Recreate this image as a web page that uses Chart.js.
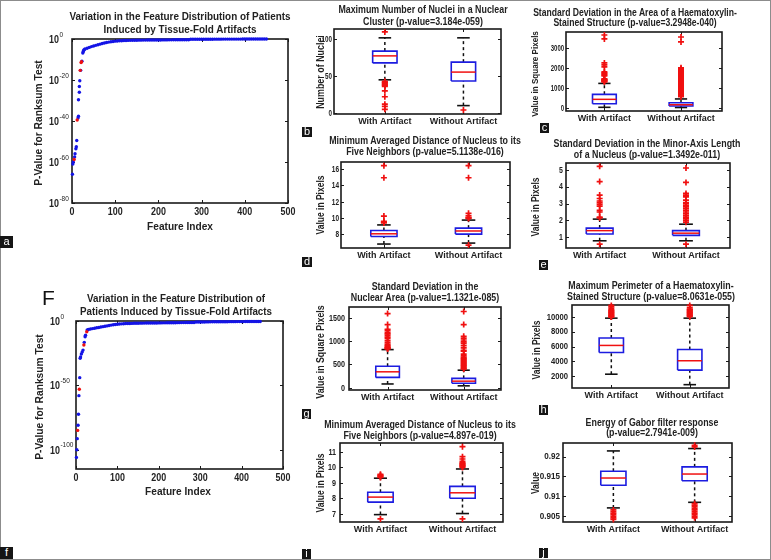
<!DOCTYPE html>
<html><head><meta charset="utf-8"><title>Tissue-fold artifact feature distributions</title>
<script src="https://cdn.jsdelivr.net/npm/chart.js@4.4.1/dist/chart.umd.min.js"></script>
<style>
html,body{margin:0;padding:0;background:#fff;}
#fig{position:relative;width:771px;height:560px;overflow:hidden;background:#fff;}
#frame{position:absolute;left:0;top:0;width:771px;height:560px;box-sizing:border-box;border:1.5px solid #8c8c8c;pointer-events:none;}
canvas{position:absolute;}
.tt{position:absolute;font-family:'Liberation Sans',Arial,sans-serif;font-weight:bold;color:#222;white-space:nowrap;text-align:center;}
.lab{position:absolute;background:#151515;color:#fff;font-family:'Liberation Sans',Arial,sans-serif;font-size:11px;line-height:11px;text-align:center;}
.bigF{position:absolute;font-family:'Liberation Sans',Arial,sans-serif;font-size:21px;color:#111;line-height:21px;}
</style></head>
<body><div id="fig"><div id="frame"></div></div>
<script>
// ---------------- DATA ----------------
const groups = ['With Artifact', 'Without Artifact'];

// Panel a: feature index vs log10(p-value)
const aBlueIdx = [1,2,3,6,7,9,10,11,14,15,15,17,17,18,20,23,25,26,27,28,
  30,35,40,45,50,55,60,65,70,75,80,85,90,95,100,105,110,115,120,125,130,135,140,145,150,155,160,165,170,175,180,185,190,195,200,205,210,215,220,225,230,235,240,245,250,255,260,265,270,275,280,285,290,295,300,305,310,315,320,325,330,335,340,345,350,355,360,365,370,375,380,385,390,395,400,405,410,415,420,425,430,435,440,445,450];
const aBlueExp = [-66,-61,-60,-57.5,-56,-53.5,-52.5,-49.5,-38.5,-37.7,-29.6,-26,-23.2,-20.4,-15.3,-10.8,-6.8,-6.2,-5.6,-5.2,
  -4.9,-4.5,-4.1,-3.7,-3.4,-3.1,-2.8,-2.5,-2.2,-1.95,-1.7,-1.5,-1.35,-1.2,-1.05,-0.95,-0.88,-0.82,-0.76,-0.72,-0.68,-0.65,-0.62,-0.6,-0.58,-0.56,-0.55,-0.54,-0.53,-0.52,-0.51,-0.5,-0.49,-0.48,-0.47,-0.46,-0.45,-0.44,-0.43,-0.42,-0.41,-0.4,-0.39,-0.38,-0.37,-0.36,-0.35,-0.34,-0.33,-0.15,-0.14,-0.13,-0.12,-0.12,-0.11,-0.11,-0.1,-0.1,-0.09,-0.09,-0.08,-0.08,-0.07,-0.07,-0.06,-0.06,-0.06,-0.05,-0.05,-0.05,-0.04,-0.04,-0.04,-0.03,-0.03,-0.03,-0.02,-0.02,-0.02,-0.02,-0.01,-0.01,-0.01,-0.005,-0.002];
const aRedIdx = [5,12,19,21,22];
const aRedExp = [-58.8,-39.5,-15.3,-11.5,-11.1];
const aTickExp = [-80,-60,-40,-20,0];
const aTickX = [0,100,200,300,400,500];

// Panel f
const fBlueIdx = [1,2,3,5,6,7,9,10,11,13,15,17,20,22,23,27,
  30,35,40,45,50,55,60,65,70,75,80,85,90,95,100,105,110,115,120,125,130,135,140,145,150,155,160,165,170,175,180,185,190,195,200,205,210,215,220,225,230,235,240,245,250,255,260,265,270,275,280,285,290,295,300,305,310,315,320,325,330,335,340,345,350,355,360,365,370,375,380,385,390,395,400,405,410,415,420,425,430,435,440,445];
const fBlueExp = [-106,-100,-91.4,-81,-72.5,-58,-44,-29,-28,-25.7,-24,-22.6,-16.6,-12.2,-11,-7,
  -6.6,-6.2,-5.9,-5.6,-5.3,-5.0,-4.7,-4.4,-4.1,-3.8,-3.5,-3.2,-2.9,-2.7,-2.5,-2.35,-2.2,-2.1,-2.0,-1.95,-1.9,-1.85,-1.8,-1.76,-1.72,-1.69,-1.66,-1.63,-1.6,-1.58,-1.56,-1.54,-1.52,-1.5,-1.48,-1.46,-1.44,-1.42,-1.4,-1.38,-1.36,-1.34,-1.32,-1.3,-1.28,-1.26,-1.24,-1.22,-1.2,-1.18,-1.16,-1.12,-0.8,-0.78,-0.76,-0.74,-0.72,-0.7,-0.68,-0.66,-0.64,-0.62,-0.6,-0.58,-0.56,-0.55,-0.54,-0.53,-0.52,-0.51,-0.5,-0.49,-0.48,-0.47,-0.46,-0.45,-0.44,-0.43,-0.42,-0.41,-0.4,-0.39,-0.38,-0.37];
const fRedIdx = [4,8,19,26];
const fRedExp = [-85,-53,-18.7,-8.3];
const fTickExp = [-100,-50,0];
const fTickX = [0,100,200,300,400,500];

// Box panels: [With Artifact, Without Artifact]
const bLow=[45,10], bQ1=[68,43.5], bMed=[77.5,55.5], bQ3=[84,69], bHigh=[102,102];
const bOutWith=[110,43,42,41,40,39,38,37,36,30,22,12,9,5], bOutWithout=[4];
const bTicks=[0,50,100];

const cLow=[20,10], cQ1=[200,85], cMed=[420,150], cQ3=[670,250], cHigh=[1220,440];
const cOutWith=[3650,3450,2250,2150,2050,1800,1750,1700,1650,1600,1450,1420,1400,1380,1350,1320,1300];
const cOutWithout=[3550,3300,2000,1950,1900,1850,1800,1750,1700,1650,1600,1550,1500,1450,1400,1350,1300,1250,1200,1150,1100,1050,1000,950,900,850,800,750,700,650,600,550];
const cTicks=[0,1000,2000,3000];

const dLow=[6.73,6.85], dQ1=[7.67,7.96], dMed=[8.0,8.35], dQ3=[8.4,8.7], dHigh=[9.1,9.7];
const dOutWith=[16.45,14.95,10.2,9.55,9.45,9.35], dOutWithout=[16.45,14.95,10.55,10.25,10.05,9.95,9.9,6.6];
const dTicks=[8,10,12,14,16];

const eLow=[0.8,0.8], eQ1=[1.2,1.12], eMed=[1.4,1.25], eQ3=[1.55,1.4], eHigh=[2.08,1.78];
const eOutWith=[5.2,4.3,3.5,3.3,3.15,3.05,2.95,2.85,2.6,2.5,2.2,2.15,0.6];
const eOutWithout=[5.1,4.25,3.6,3.5,3.4,3.2,3.05,3.0,2.9,2.8,2.7,2.6,2.5,2.4,2.3,2.2,2.1,2.0,1.9,0.6];
const eTicks=[1,2,3,4,5];

const gLow=[80,40], gQ1=[220,95], gMed=[340,140], gQ3=[460,200], gHigh=[815,375];
const gOutWith=[1585,1350,1250,1220,1180,1150,1120,1080,1050,1000,960,920,900,880,860,850,840,830];
const gOutWithout=[1630,1350,1100,1060,1020,980,950,900,850,800,780,720,680,650,630,610,590,570,550,530,510,490,470,450,430,410,400];
const gTicks=[0,500,1000,1500];

const hLow=[2300,900], hQ1=[5200,2850], hMed=[6150,4100], hQ3=[7150,5600], hHigh=[9800,9800];
const hOutWith=[11500,11300,11100,10900,10800,10700,10600,10500,10400,10300,10200,10100,10000,9950];
const hOutWithout=[11500,11200,11000,10900,10800,10700,10600,10500,10400,10300,10200,10100,10000];
const hTicks=[2000,4000,6000,8000,10000];

const iLow=[6.93,7.0], iQ1=[7.74,8.0], iMed=[8.07,8.35], iQ3=[8.39,8.77], iHigh=[9.3,9.9];
const iOutWith=[9.55,9.5,9.45,9.4,9.35,6.65];
const iOutWithout=[11.35,10.7,10.55,10.4,10.3,10.25,10.2,10.15,10.1,10.05,10.0,6.65];
const iTicks=[7,8,9,10,11];

const jLow=[0.9071,0.9085], jQ1=[0.9128,0.9139], jMed=[0.9146,0.9156], jQ3=[0.9163,0.9174], jHigh=[0.9214,0.9220];
const jOutWith=[0.9066,0.9062,0.9058,0.9054,0.905,0.9046,0.9042];
const jOutWithout=[0.9228,0.9224,0.9082,0.9078,0.9074,0.907,0.9066,0.9062,0.9058,0.9054,0.905,0.9046];
const jTicks=[0.905,0.91,0.915,0.92];

// ---------------- RENDERING ----------------
const FONT = "'Liberation Sans',Arial,sans-serif";
const fig = document.getElementById('fig');
const L=46, T=8, R=22, B=24;
const BLUE='#1c1ce0', RED='#f01010', DOT='#1414e6';

function makeCanvas(rect){
  const [l,t,r,b]=rect;
  const c=document.createElement('canvas');
  c.width=Math.round(r-l)+L+R; c.height=Math.round(b-t)+T+B;
  c.style.left=(Math.round(l)-L)+'px'; c.style.top=(Math.round(t)-T)+'px';
  c.style.width=c.width+'px'; c.style.height=c.height+'px';
  fig.appendChild(c);
  return c;
}
function text(lines,x,y,size,lh,sq,rot){
  const d=document.createElement('div'); d.className='tt';
  d.style.left=x+'px'; d.style.top=y+'px'; d.style.fontSize=size+'px'; d.style.lineHeight=lh+'px';
  d.style.transform='translate(-50%,-50%)'+(rot?' rotate(-90deg)':'')+' scaleX('+sq+')';
  lines.forEach((s,i)=>{ if(i) d.appendChild(document.createElement('br')); d.appendChild(document.createTextNode(s)); });
  fig.appendChild(d);
}
function label(ch,x,y,w,h){
  const d=document.createElement('div'); d.className='lab';
  d.style.left=x+'px'; d.style.top=y+'px'; d.style.width=w+'px'; d.style.height=h+'px'; d.style.lineHeight=(h-1)+'px';
  d.textContent=ch; fig.appendChild(d);
}

const mbox = {
  id:'mbox',
  beforeDatasetsDraw(chart,args,o){
    const {ctx, chartArea:a, scales:{x,y}} = chart;
    ctx.save();
    ctx.strokeStyle='#1a1a1a'; ctx.lineWidth=1;
    ctx.beginPath();
    const tl=3;
    y.ticks.forEach(t=>{const p=Math.round(y.getPixelForValue(t.value))+0.5;
      ctx.moveTo(a.left,p);ctx.lineTo(a.left+tl,p);ctx.moveTo(a.right,p);ctx.lineTo(a.right-tl,p);});
    x.ticks.forEach(t=>{const p=Math.round(x.getPixelForValue(t.value))+0.5;
      ctx.moveTo(p,a.bottom);ctx.lineTo(p,a.bottom-tl);ctx.moveTo(p,a.top);ctx.lineTo(p,a.top+tl);});
    ctx.stroke();
    ctx.lineWidth=1.6;
    ctx.strokeRect(a.left,a.top,a.right-a.left,a.bottom-a.top);
    ctx.restore();
  },
  afterDraw(chart,args,o){
    if(!o) return;
    const {ctx, chartArea:a, scales:{x,y}} = chart;
    ctx.save(); ctx.fillStyle='#222';
    if(o.yl){
      const s=o.yl;
      ctx.font='bold '+s.size+'px '+FONT; ctx.textAlign='right'; ctx.textBaseline='middle';
      y.ticks.forEach(t=>{const p=y.getPixelForValue(t.value);
        ctx.save(); ctx.translate(a.left-s.gap,p+0.5); ctx.scale(s.sq,1);
        ctx.fillText(t.label!=null?String(t.label):String(t.value),0,0); ctx.restore();});
    }
    if(o.xl){
      const s=o.xl;
      ctx.font='bold '+s.size+'px '+FONT; ctx.textAlign='center'; ctx.textBaseline='middle';
      x.ticks.forEach(t=>{const p=x.getPixelForValue(t.value);
        ctx.save(); ctx.translate(p,a.bottom+s.dy); ctx.scale(s.sq,1);
        ctx.fillText(t.label!=null?String(t.label):String(t.value),0,0); ctx.restore();});
    }
    if(o.logLabels){
      ctx.textAlign='left'; ctx.textBaseline='middle';
      y.ticks.forEach(t=>{
        const p=y.getPixelForValue(t.value);
        const e=Math.round(Math.log10(t.value));
        const x0=a.left-o.labelOffset;
        ctx.font='bold 10.5px '+FONT;
        ctx.save(); ctx.translate(x0,p+1); ctx.scale(0.85,1); ctx.fillText('10',0,0); ctx.restore();
        const w=ctx.measureText('10').width*0.85;
        ctx.font='6.5px '+FONT;
        ctx.fillText(String(e),x0+w+0.5,p-4);
      });
    }
    ctx.restore();
  }
};

function baseOptions(xScale,yScale,pluginOpts){
  return {
    responsive:false, animation:false, devicePixelRatio:1, events:[],
    layout:{padding:{left:0,top:T,right:R,bottom:0}},
    plugins:{legend:{display:false},tooltip:{enabled:false},title:{display:false},mbox:pluginOpts||{}},
    scales:{x:xScale,y:yScale}
  };
}
function linScale(min,max,ticks,cb,pad,size,axis,show){
  return {type:'linear',min,max,bounds:'data',
    afterBuildTicks:s=>{s.ticks=ticks.map(v=>({value:v}));},
    afterFit:s=>{ if(axis==='x') s.height=B; else s.width=L; },
    grid:{display:false,drawTicks:false}, border:{display:false},
    ticks:{display:show,autoSkip:false,maxRotation:0,minRotation:0,padding:pad,color:'#222',
      font:{family:FONT,size:size,weight:'bold'},callback:cb}};
}

function logPanel(rect,xTicks,minExp,tickExp,blueIdx,blueExp,redIdx,redExp,labelOffset){
  const c=makeCanvas(rect);
  const ys={type:'logarithmic',min:Math.pow(10,minExp),max:1,bounds:'data',
    afterBuildTicks:s=>{s.ticks=tickExp.map(e=>({value:Math.pow(10,e)}));},
    afterFit:s=>{s.width=L;},
    grid:{display:false,drawTicks:false}, border:{display:false},
    ticks:{display:false,autoSkip:false}};
  const xs=linScale(0,500,xTicks,v=>String(v),3,10,'x',false);
  new Chart(c,{type:'scatter',
    data:{datasets:[
      {data:redIdx.map((v,i)=>({x:v,y:Math.pow(10,redExp[i])})),pointRadius:1.7,pointBorderWidth:0,pointBackgroundColor:RED,borderColor:RED,clip:false},
      {data:blueIdx.map((v,i)=>({x:v,y:Math.pow(10,blueExp[i])})),pointRadius:1.7,pointBorderWidth:0,pointBackgroundColor:DOT,borderColor:DOT,clip:false}
    ]},
    options:baseOptions(xs,ys,{logLabels:true,labelOffset,xl:{size:10.5,sq:0.85,dy:9}}),
    plugins:[mbox]});
}

function seg(pts,color,width,dash){
  return {data:pts,showLine:true,borderColor:color,borderWidth:width,borderDash:dash||[],pointRadius:0,fill:false,tension:0,clip:false};
}
function boxPanel(rect,xr,yr,ticks,low,q1,med,q3,high,outs,yl){
  const c=makeCanvas(rect);
  const w=0.155, cw=0.08;
  const ds=[];
  outs.forEach((o,i)=>{const cx=i+1;
    ds.push({data:o.map(v=>({x:cx,y:v})),showLine:false,pointStyle:'cross',pointRadius:3,pointBorderWidth:1.7,pointBorderColor:RED,borderColor:RED,clip:false});});
  low.forEach((_,i)=>{const cx=i+1;
    ds.push(seg([{x:cx-w,y:med[i]},{x:cx+w,y:med[i]}],RED,1.5));
    ds.push(seg([{x:cx-w,y:q1[i]},{x:cx+w,y:q1[i]},{x:cx+w,y:q3[i]},{x:cx-w,y:q3[i]},{x:cx-w,y:q1[i]}],BLUE,1.6));
    ds.push(seg([{x:cx,y:q3[i]},{x:cx,y:high[i]}],'#111',1.5,[3,3]));
    ds.push(seg([{x:cx,y:low[i]},{x:cx,y:q1[i]}],'#111',1.5,[3,3]));
    ds.push(seg([{x:cx-cw,y:high[i]},{x:cx+cw,y:high[i]}],'#111',1.6));
    ds.push(seg([{x:cx-cw,y:low[i]},{x:cx+cw,y:low[i]}],'#111',1.6));
  });
  const xs=linScale(xr[0],xr[1],[1,2],(v,i)=>groups[i],2,9,'x',true);
  const ys=linScale(yr[0],yr[1],ticks,v=>String(v),4,9,'y',false);
  new Chart(c,{type:'scatter',data:{datasets:ds},options:baseOptions(xs,ys,{yl}),plugins:[mbox]});
}

// Panels
logPanel([72,39,288,203],aTickX,-80,aTickExp,aBlueIdx,aBlueExp,aRedIdx,aRedExp,23);
logPanel([76,321,283,469],fTickX,-115,fTickExp,fBlueIdx,fBlueExp,fRedIdx,fRedExp,26);

boxPanel([334,29,501,114],[0.353,2.478],[-1.4,114],bTicks,bLow,bQ1,bMed,bQ3,bHigh,[bOutWith,bOutWithout],{size:9.5,sq:0.66,gap:2});
boxPanel([566,32,722,111],[0.499,2.535],[-165,3800],cTicks,cLow,cQ1,cMed,cQ3,cHigh,[cOutWith,cOutWithout],{size:8.5,sq:0.7,gap:2});
boxPanel([341,162,510,248],[0.493,2.49],[6.24,16.9],dTicks,dLow,dQ1,dMed,dQ3,dHigh,[dOutWith,dOutWithout],{size:9,sq:0.72,gap:2});
boxPanel([566,163,730,248],[0.61,2.51],[0.374,5.396],eTicks,eLow,eQ1,eMed,eQ3,eHigh,[eOutWith,eOutWithout],{size:8.5,sq:0.82,gap:3});
boxPanel([349,307,501,390],[0.493,2.49],[-49,1726],gTicks,gLow,gQ1,gMed,gQ3,gHigh,[gOutWith,gOutWithout],{size:9,sq:0.8,gap:4});
boxPanel([572,305,729,388],[0.499,2.5],[453,11560],hTicks,hLow,hQ1,hMed,hQ3,hHigh,[hOutWith,hOutWithout],{size:8.5,sq:0.9,gap:4});
boxPanel([340,443,503,522],[0.507,2.494],[6.45,11.59],iTicks,iLow,iQ1,iMed,iQ3,iHigh,[iOutWith,iOutWithout],{size:9,sq:0.8,gap:4});
boxPanel([563,443,732,522],[0.38,2.46],[0.90356,0.92339],jTicks,jLow,jQ1,jMed,jQ3,jHigh,[jOutWith,jOutWithout],{size:9,sq:0.9,gap:3});

// Titles
text(['Variation in the Feature Distribution of Patients','Induced by Tissue-Fold Artifacts'],180,22.5,11,13,0.9);
text(['Variation in the Feature Distribution of','Patients Induced by Tissue-Fold Artifacts'],176,304.5,11,13,0.89);
text(['Maximum Number of Nuclei in a Nuclear','Cluster (p-value=3.184e-059)'],422.5,16,10,11.7,0.885);
text(['Standard Deviation in the Area of a Haematoxylin-','Stained Structure (p-value=3.2948e-040)'],635,18.5,10,10.8,0.86);
text(['Minimum Averaged Distance of Nucleus to its','Five Neighbors (p-value=5.1138e-016)'],425,147,10,10.8,0.885);
text(['Standard Deviation in the Minor-Axis Length','of a Nucleus (p-value=1.3492e-011)'],646.5,148.5,10,11.3,0.885);
text(['Standard Deviation in the','Nuclear Area (p-value=1.1321e-085)'],424.5,291.5,10,11.3,0.885);
text(['Maximum Perimeter of a Haematoxylin-','Stained Structure (p-value=8.0631e-055)'],650.5,290.5,10,11,0.885);
text(['Minimum Averaged Distance of Nucleus to its','Five Neighbors (p-value=4.897e-019)'],420,429.5,10,11,0.885);
text(['Energy of Gabor filter response','(p-value=2.7941e-009)'],651.5,428.5,10,10.7,0.885);

// Axis titles
text(['P-Value for Ranksum Test'],38,123,11.5,12,0.89,true);
text(['Feature Index'],180,226,11.5,12,0.88);
text(['P-Value for Ranksum Test'],39,397,11.5,12,0.89,true);
text(['Feature Index'],178,491,11.5,12,0.88);
text(['Number of Nuclei'],319.5,72,10,11,0.89,true);
text(['Value in Square Pixels'],535,74,9.5,10,0.85,true);
text(['Value in Pixels'],319.5,205,10,11,0.85,true);
text(['Value in Pixels'],535,206.5,10,11,0.85,true);
text(['Value in Square Pixels'],320,351.5,10,11,0.88,true);
text(['Value in Pixels'],536,350,10,11,0.85,true);
text(['Value in Pixels'],319.5,483,10,11,0.85,true);
text(['Value'],535,483,10,11,0.85,true);

// Panel letters
label('a',0,236,13,12);
label('b',302,127,10,10);
label('c',540,123,9,10);
label('d',302,257,10,10);
label('e',539,260,9,10);
label('f',0,547,13,12);
label('g',302,409,9,10);
label('h',539,405,9,10);
label('i',302,549,9,10);
label('j',539,548,9,10);
const F=document.createElement('div'); F.className='bigF'; F.style.left='42px'; F.style.top='287px'; F.textContent='F'; fig.appendChild(F);
</script></body></html>
